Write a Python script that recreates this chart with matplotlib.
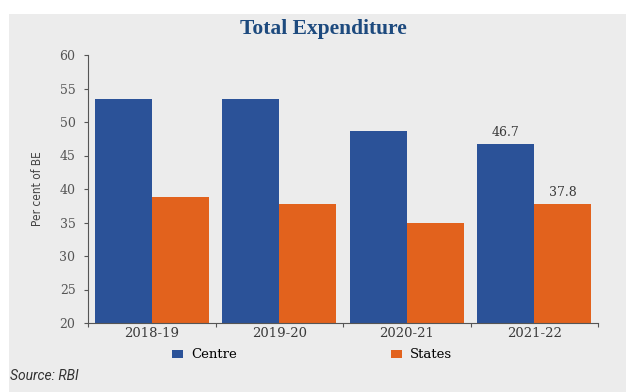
import matplotlib
matplotlib.use("Agg")
import matplotlib.pyplot as plt
from matplotlib.patches import Rectangle
import numpy as np

# Expenditure shares (per cent of budget estimates)
years = ["2018-19", "2019-20", "2020-21", "2021-22"]
centre = [53.5, 53.5, 48.7, 46.7]
states = [38.8, 37.8, 34.9, 37.8]
yticks = [20, 25, 30, 35, 40, 45, 50, 55, 60]

blue = "#2b5298"
orange = "#e2621d"
panel = "#ececec"
serif = "DejaVu Serif"

fig = plt.figure(figsize=(6.26, 3.92), dpi=100)
fig.patch.set_facecolor("white")
fig.patches.append(Rectangle((9 / 626, 0), 1, 1 - 14 / 392,
                             transform=fig.transFigure, facecolor=panel,
                             edgecolor="none", zorder=-5))

ax = fig.add_axes([88 / 626, 69 / 392, 510 / 626, 268 / 392])
ax.set_facecolor(panel)
ax.set_zorder(2)

x = np.arange(len(years))
w = 0.447
b1 = ax.bar(x - w / 2, [v - 20 for v in centre], w, bottom=20, color=blue, label="Centre")
b2 = ax.bar(x + w / 2, [v - 20 for v in states], w, bottom=20, color=orange, label="States")

# value labels on the latest year only
ax.text(x[-1] - w / 2, centre[-1] + 0.7, f"{centre[-1]:.1f}", ha="center", va="bottom",
        fontsize=9, color="#3a3a3a", family=serif)
ax.text(x[-1] + w / 2, states[-1] + 0.7, f"{states[-1]:.1f}", ha="center", va="bottom",
        fontsize=9, color="#3a3a3a", family=serif)

ax.set_xlim(-0.5, len(years) - 0.5)
ax.set_ylim(20, 60)
ax.set_yticks(yticks)
ax.set_yticklabels([str(t) for t in yticks], family=serif, fontsize=9, color="#555555")

# category ticks sit between groups, labels centred under groups
ax.set_xticks(np.arange(-0.5, len(years), 1.0))
ax.set_xticklabels([])
ax.set_xticks(x, minor=True)
ax.set_xticklabels(years, minor=True, family=serif, fontsize=9.5, color="#3a3a3a")
ax.tick_params(axis="x", which="minor", length=0, pad=3)
ax.tick_params(axis="x", which="major", length=3, color="#555555")
ax.tick_params(axis="y", length=3, color="#555555", pad=6)

for s in ["top", "right"]:
    ax.spines[s].set_visible(False)
for s in ["left", "bottom"]:
    ax.spines[s].set_color("#555555")
    ax.spines[s].set_linewidth(0.8)

ax.set_ylabel("Per cent of BE", family="DejaVu Sans", fontstretch="condensed",
              fontsize=8.5, color="#444444", labelpad=11)

fig.legend(handles=[b1, b2], loc="center", bbox_to_anchor=(312 / 626, 1 - 355 / 392),
           ncol=2, frameon=False, handlelength=0.8, handleheight=0.5,
           handletextpad=0.6, columnspacing=11.7,
           prop={"family": serif, "size": 9.5})

fig.text(323 / 626, 1 - 29 / 392, "Total Expenditure", ha="center", va="center",
         family="Liberation Serif", fontweight="bold", fontsize=15.5, color="#1d4a7e")
fig.text(10 / 626, 1 - 376 / 392, "Source: RBI", ha="left", va="center",
         family="Roboto", fontstyle="italic", fontsize=10, color="#333333")

fig.savefig("out.png", dpi=100, facecolor=fig.get_facecolor())
